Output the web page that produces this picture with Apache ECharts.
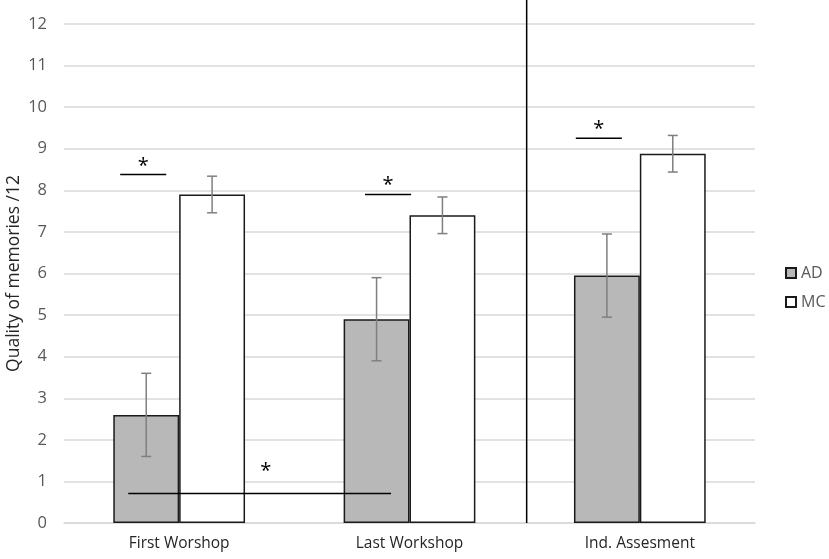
<!DOCTYPE html>
<html><head><meta charset="utf-8">
<script src="https://cdn.jsdelivr.net/npm/echarts@6/dist/echarts.min.js"></script>
<style>html,body{margin:0;padding:0;background:#fff}#c{width:829px;height:559px}</style>
</head><body><div id="c"></div>
<script>
const categories = ['First Worshop', 'Last Workshop', 'Ind. Assesment'];
const seriesNames = ['AD', 'MC'];
const adValues = [2.6, 4.9, 5.95];
const mcValues = [7.9, 7.4, 8.88];
const adErrors = [1.0, 1.0, 1.0];
const mcErrors = [0.44, 0.44, 0.44];
const yTicks = [0, 12, 1];
// significance marks: [startCategory, endCategory, lineValue, starValue]
const sigStart = [0, 1, 2, 0];
const sigEnd = [0, 1, 2, 1];
const sigLineY = [8.38, 7.9, 9.25, 0.71];
const sigStarY = [8.68, 8.22, 9.57, 1.33];
// horizontal placement of significance marks (fraction of category width)
const sigLayout = [[-0.256, -0.056, -0.156], [-0.193, 0.007, -0.093], [-0.278, -0.078, -0.178], [-0.221, -0.080, -0.6]];

const FONT = 'Open Sans';
const BAR_FRAC = 0.286;

const chart = echarts.init(document.getElementById('c'));

function errorItem(side) {
  return function (params, api) {
    const i = api.value(0), v = api.value(1), e = api.value(2);
    const bw = api.size([1, 0])[0] * BAR_FRAC;
    const x = api.coord([i, v])[0] + side * bw / 2;
    const yt = api.coord([i, v + e])[1];
    const yb = api.coord([i, v - e])[1];
    const st = { stroke: '#7f7f7f', lineWidth: 1.5 };
    return { type: 'group', children: [
      { type: 'line', shape: { x1: x, y1: yt, x2: x, y2: yb }, style: st },
      { type: 'line', shape: { x1: x - 5, y1: yt, x2: x + 5, y2: yt }, style: st },
      { type: 'line', shape: { x1: x - 5, y1: yb, x2: x + 5, y2: yb }, style: st }
    ]};
  };
}

const sigData = sigStart.map((s, k) => [s, sigEnd[k], sigLineY[k], sigStarY[k], k]);

chart.setOption({
  animation: false,
  textStyle: { fontFamily: FONT },
  grid: { left: 64, right: 74, top: 24, bottom: 36, outerBoundsMode: 'none', containLabel: false },
  legend: {
    orient: 'vertical', left: 780, top: 260, itemGap: 13,
    itemWidth: 10, itemHeight: 10, icon: 'rect',
    textStyle: { color: '#595959', fontSize: 16, fontFamily: FONT },
    data: seriesNames
  },
  xAxis: {
    type: 'category', data: categories,
    axisLine: { lineStyle: { color: '#d9d9d9', width: 1.5 } },
    axisTick: { show: false },
    axisLabel: { color: '#262626', fontSize: 15.5, margin: 13 }
  },
  yAxis: {
    type: 'value', min: yTicks[0], max: yTicks[1], interval: yTicks[2],
    name: 'Quality of memories /12', nameLocation: 'middle', nameGap: 41, nameMoveOverlap: false,
    nameTextStyle: { color: '#262626', fontSize: 17.5 },
    axisLine: { show: false }, axisTick: { show: false },
    axisLabel: { color: '#595959', fontSize: 16.5, margin: 17 },
    splitLine: { lineStyle: { color: '#d9d9d9', width: 1.5 } }
  },
  series: [
    { name: seriesNames[0], type: 'bar', data: adValues, barWidth: (BAR_FRAC * 100) + '%', barGap: '0%',
      itemStyle: { color: '#b8b8b8', borderColor: '#1a1a1a', borderWidth: 1.5 } },
    { name: seriesNames[1], type: 'bar', data: mcValues, barWidth: (BAR_FRAC * 100) + '%', barGap: '0%',
      itemStyle: { color: '#ffffff', borderColor: '#1a1a1a', borderWidth: 1.5 } },
    { type: 'custom', z: 5, renderItem: errorItem(-1),
      data: adValues.map((v, i) => [i, v, adErrors[i]]) },
    { type: 'custom', z: 5, renderItem: errorItem(1),
      data: mcValues.map((v, i) => [i, v, mcErrors[i]]) },
    { type: 'custom', z: 6, clip: false,
      renderItem: function (params, api) {
        const cw = api.size([1, 0])[0];
        const k = api.value(4);
        const lay = sigLayout[k];
        const x1 = api.coord([api.value(0), 0])[0] + lay[0] * cw;
        const x2 = api.coord([api.value(1), 0])[0] + lay[1] * cw;
        const y = api.coord([0, api.value(2)])[1];
        const ys = api.coord([0, api.value(3)])[1];
        const xs = lay[2] > -0.5 ? api.coord([api.value(0), 0])[0] + lay[2] * cw : (x1 + x2) / 2 + 6;
        return { type: 'group', children: [
          { type: 'line', shape: { x1: x1, y1: y, x2: x2, y2: y }, style: { stroke: '#000', lineWidth: 1.5 } },
          { type: 'text', x: xs, y: ys + 4, style: { text: '*', fontSize: 20, fontFamily: FONT, fill: '#000', align: 'center', verticalAlign: 'middle' } }
        ]};
      },
      data: sigData },
    { type: 'custom', z: 6, clip: false,
      renderItem: function (params, api) {
        const cw = api.size([1, 0])[0];
        const x = api.coord([1, 0])[0] + cw / 2 + 2;
        const yb = api.coord([1, 0])[1];
        return { type: 'line', shape: { x1: x, y1: 0, x2: x, y2: yb }, style: { stroke: '#000', lineWidth: 1.5 } };
      },
      data: [[1, 0]] }
  ]
});
</script></body></html>
